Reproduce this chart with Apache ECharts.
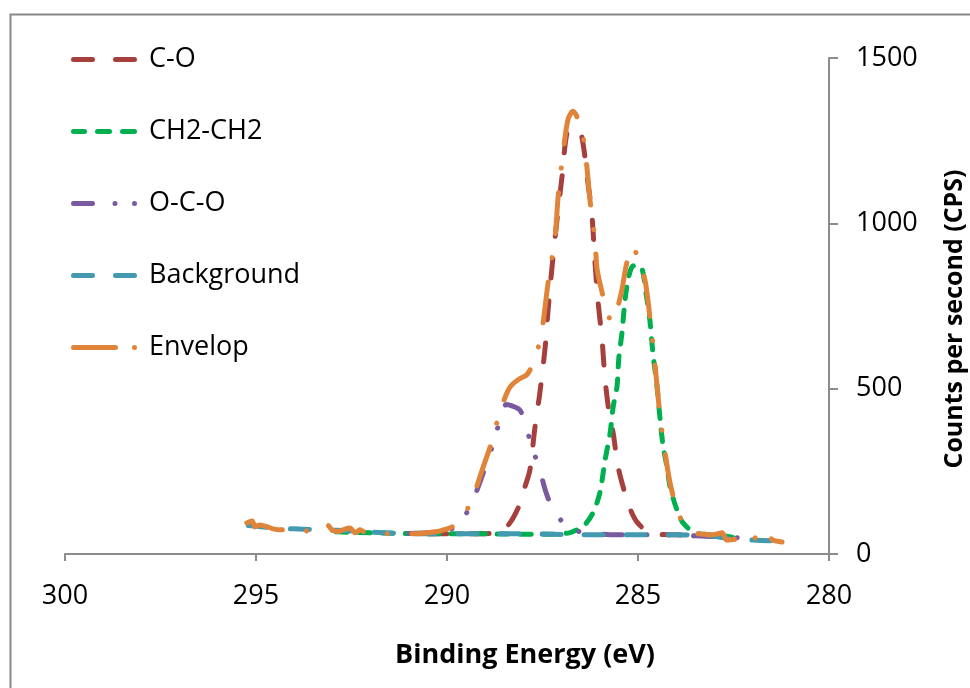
<!DOCTYPE html>
<html>
<head>
<meta charset="utf-8">
<script src="https://cdn.jsdelivr.net/npm/echarts@6/dist/echarts.min.js"></script>
<style>
html,body{margin:0;padding:0;background:#fff;}
#chart{width:970px;height:688px;}
</style>
</head>
<body>
<div id="chart"></div>
<script>
// ---- data (binding energy in eV, counts per second) ----
var coX = [290.5, 289.5, 288.8, 288.53, 288.43, 288.27, 288.1, 287.96, 287.83, 287.70, 287.57, 287.43, 287.36, 287.25, 287.12, 286.99, 286.86, 286.72, 286.6, 286.47, 286.31, 286.21, 286.13, 286.05, 285.94, 285.86, 285.73, 285.65, 285.52, 285.29, 285.16, 285.03, 284.8, 284.5, 284.0, 283.5, 283.0, 282.5];
var coY = [61, 61, 63, 70, 82, 109, 150, 203, 254, 381, 487, 626, 729, 868, 1010, 1140, 1273, 1290, 1282, 1261, 1122, 1031, 889, 768, 647, 526, 405, 366, 263, 163, 124, 97, 72, 60, 58, 57, 54, 50];

var chX = [292.9, 292.0, 291.0, 290.0, 289.0, 288.0, 287.2, 286.8, 286.6, 286.44, 286.18, 286.0, 285.86, 285.73, 285.65, 285.55, 285.50, 285.42, 285.34, 285.26, 285.16, 285.03, 284.9, 284.79, 284.69, 284.61, 284.50, 284.42, 284.34, 284.24, 284.16, 283.98, 283.82, 283.5, 283.0, 282.6, 282.3];
var chY = [67, 64, 62, 61, 61, 60, 60, 64, 73, 82, 124, 185, 285, 366, 445, 506, 596, 668, 768, 829, 868, 874, 865, 789, 708, 608, 505, 405, 324, 263, 203, 133, 94, 64, 58, 52, 45];

var ocoX = [291.0, 290.5, 290.0, 289.8, 289.6, 289.4, 289.2, 289.0, 288.8, 288.6, 288.45, 288.3, 288.09, 287.96, 287.83, 287.75, 287.57, 287.43, 287.30, 287.14, 286.96, 286.70, 286.33, 285.55, 284.5, 283.5, 282.14];
var ocoY = [62, 64, 70, 82, 105, 142, 198, 262, 330, 410, 452, 448, 435, 396, 345, 315, 254, 194, 154, 124, 94, 73, 64, 58, 58, 55, 48];

var bgX = [295.2, 294.8, 294.4, 294.0, 293.5, 293.0, 292.7, 292.3, 291.8, 291.4, 291.0, 290.5, 290.0, 289.0, 288.0, 287.0, 286.0, 285.0, 284.0, 283.5, 283.0, 282.5, 282.0, 281.5];
var bgY = [86, 82, 78, 76, 74, 72, 71, 68, 65, 63, 62, 61, 61, 61, 61, 59, 58, 58, 58, 57, 54, 44, 42, 40];

var envX = [295.24, 295.1, 295.03, 294.9, 294.7, 294.55, 294.37, 294.2, 294.05, 293.93, 293.8, 293.67, 293.54, 293.4, 293.27, 293.14, 293.0, 292.85, 292.72, 292.54, 292.4, 292.28, 292.15, 292.0, 291.83, 291.57, 291.3, 291.1, 290.97, 290.7, 290.52, 290.3, 290.18, 290.0, 289.84, 289.65, 289.45, 289.25, 289.06, 288.87, 288.7, 288.53, 288.4, 288.3, 288.1, 287.91, 287.75, 287.64, 287.51, 287.36, 287.17, 287.09, 286.96, 286.83, 286.70, 286.57, 286.44, 286.34, 286.26, 286.13, 286.07, 285.94, 285.81, 285.68, 285.55, 285.42, 285.29, 285.13, 285.00, 284.82, 284.69, 284.55, 284.42, 284.29, 284.16, 283.95, 283.72, 283.56, 283.3, 283.12, 282.95, 282.8, 282.67, 282.5, 282.3, 282.17, 282.07, 281.88, 281.75, 281.62, 281.47, 281.23];
var envY = [94, 100, 82, 88, 82, 76, 73, 74, 74, 73, 67, 70, 79, 73, 82, 88, 72, 68, 73, 79, 64, 73, 67, 70, 64, 61, 62, 62, 61, 62, 64, 67, 70, 76, 84, 105, 139, 195, 261, 324, 395, 458, 495, 512, 530, 542, 575, 612, 679, 815, 961, 1082, 1215, 1315, 1339, 1315, 1264, 1173, 1073, 952, 861, 791, 730, 703, 739, 800, 882, 930, 891, 830, 718, 567, 415, 306, 215, 124, 79, 64, 60, 58, 60, 64, 42, 44, 46, 50, 36, 52, 36, 58, 42, 36];

var seriesNames = ['C-O', 'CH2-CH2', 'O-C-O', 'Background', 'Envelop'];
var xTicks = [300, 295, 290, 285, 280];
var yTicks = [0, 500, 1000, 1500];

function zip(xs, ys) { return xs.map(function (x, i) { return [x, ys[i]]; }); }

var colors = ['#A5403D', '#00B050', '#7A5A9E', '#4299B0', '#E0843A'];
var dashes = [
  [19, 23],
  [11, 12],
  [19, 24.5, 0.1, 22, 0.1, 24.5],
  [19, 23],
  [41, 24.5, 0.1, 24.5]
];
// legend icon geometry: rounded segments [start, end] within a 66x5 box
function seg(a, b) {
  var r = 2.5;
  return 'M' + (a + r) + ',0 H' + (b - r) + ' A' + r + ',' + r + ' 0 0 1 ' + (b - r) + ',5 H' + (a + r) +
    ' A' + r + ',' + r + ' 0 0 1 ' + (a + r) + ',0 Z ';
}
var iconSegs = [
  [[0, 24], [42, 66]],
  [[0, 16], [24, 41], [49, 66]],
  [[0, 24], [41.5, 46.5], [61, 66]],
  [[0, 24], [42, 66]],
  [[0, 47], [61, 66]]
];
var datasets = [zip(coX, coY), zip(chX, chY), zip(ocoX, ocoY), zip(bgX, bgY), zip(envX, envY)];

var series = seriesNames.map(function (n, i) {
  return {
    name: n,
    type: 'line',
    data: datasets[i],
    smooth: 0.3,
    symbol: 'none',
    showSymbol: false,
    lineStyle: { color: colors[i], width: 5, type: dashes[i], cap: 'round', join: 'round' },
    itemStyle: { color: colors[i] },
    z: 2 + i
  };
});

var legendData = seriesNames.map(function (n, i) {
  return {
    name: n,
    icon: 'path://' + iconSegs[i].map(function (s) { return seg(s[0], s[1]); }).join(''),
    itemStyle: { color: colors[i], borderWidth: 0 }
  };
});

var chart = echarts.init(document.getElementById('chart'), null, { renderer: 'canvas' });
chart.setOption({
  animation: false,
  backgroundColor: '#ffffff',
  graphic: [{
    type: 'rect', left: 8, top: 12, silent: true,
    shape: { width: 990, height: 700 },
    style: { fill: 'none', stroke: '#888888', lineWidth: 2 }
  }],
  grid: { left: 65, right: 141, top: 58, bottom: 134, containLabel: false, outerBoundsMode: 'none' },
  legend: {
    orient: 'vertical',
    left: 66,
    top: 41,
    itemWidth: 66,
    itemHeight: 5,
    itemGap: 45,
    data: legendData,
    itemStyle: { borderWidth: 0 },
    textStyle: { fontFamily: 'Open Sans', fontSize: 27, color: '#000', padding: [0, 0, 0, 7], lineHeight: 27 }
  },
  xAxis: {
    type: 'value',
    min: 280, max: 300, interval: 5,
    inverse: true,
    name: 'Binding Energy (eV)',
    nameLocation: 'middle',
    nameGap: 88,
    nameTextStyle: { fontFamily: 'Open Sans', fontWeight: 'bold', fontSize: 27, color: '#000', padding: [0, 0, 0, 156] },
    axisLine: { onZero: false, lineStyle: { color: '#8c8c8c', width: 2 } },
    axisTick: { show: true, inside: false, length: 7, lineStyle: { color: '#8c8c8c', width: 2 } },
    axisLabel: {
      margin: 29, fontFamily: 'Open Sans', fontSize: 27, color: '#000',
      formatter: function (v) { return xTicks.indexOf(v) >= 0 ? String(v) : ''; }
    },
    splitLine: { show: false }
  },
  yAxis: {
    type: 'value',
    position: 'right',
    min: 0, max: 1500, interval: 500,
    name: 'Counts per second (CPS)',
    nameLocation: 'middle',
    nameRotate: 90,
    nameGap: 113,
    nameTextStyle: { fontFamily: 'Open Sans', fontWeight: 'bold', fontSize: 25, color: '#000', padding: [0, 26, 0, 0] },
    axisLine: { show: true, lineStyle: { color: '#8c8c8c', width: 2 } },
    axisTick: { show: true, inside: false, length: 9, lineStyle: { color: '#8c8c8c', width: 2 } },
    axisLabel: {
      margin: 27, fontFamily: 'Open Sans', fontSize: 27, color: '#000',
      formatter: function (v) { return yTicks.indexOf(v) >= 0 ? String(v) : ''; }
    },
    splitLine: { show: false }
  },
  series: series
});
</script>
</body>
</html>
